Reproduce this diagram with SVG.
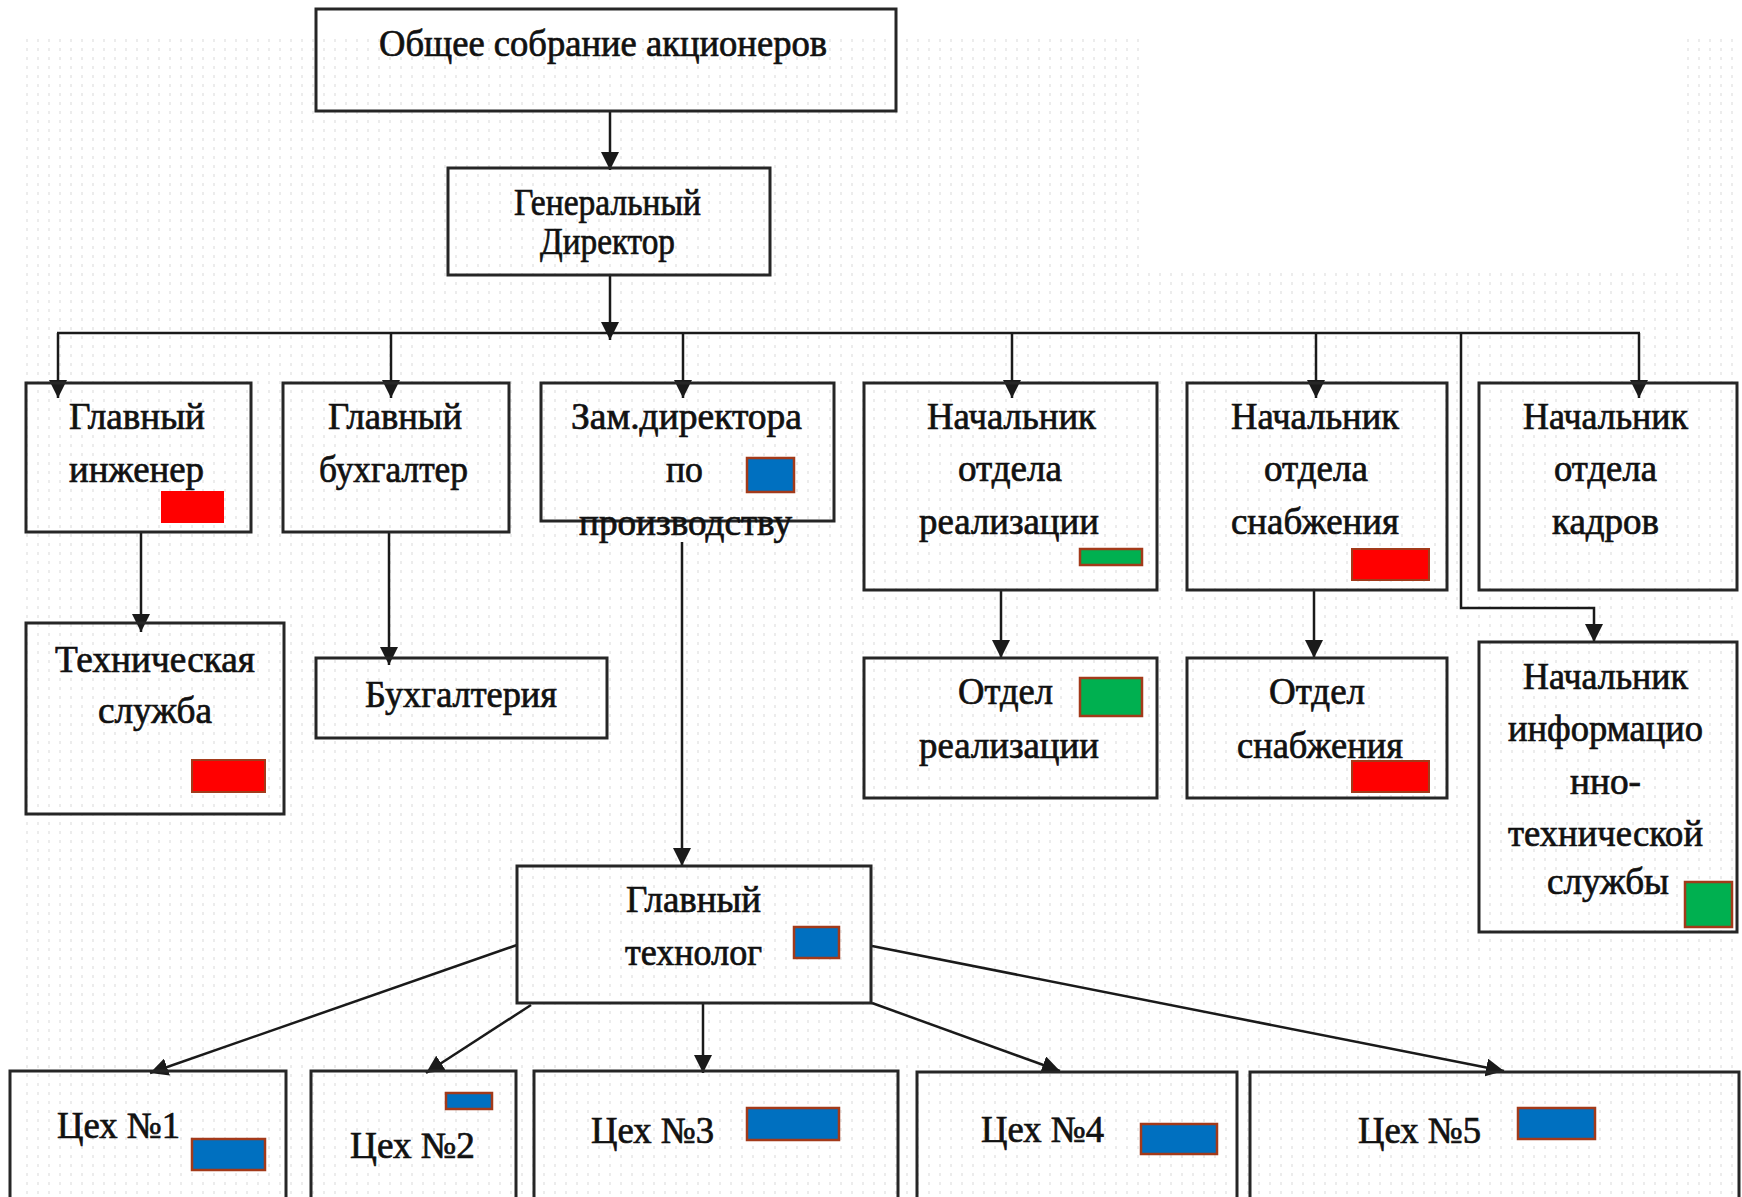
<svg xmlns="http://www.w3.org/2000/svg" width="1742" height="1197" viewBox="0 0 1742 1197">
<defs>
<pattern id="dots" width="11" height="9" patternUnits="userSpaceOnUse">
<rect x="4" y="3" width="2" height="3" fill="#d9d9d9"/>
</pattern>
<marker id="ah" viewBox="0 0 18 18" refX="18" refY="9" markerWidth="18" markerHeight="18" markerUnits="userSpaceOnUse" orient="auto">
<path d="M0,0 L18,9 L0,18 z" fill="#1a1a1a"/>
</marker>
<style>
.box{fill:none;stroke:#262626;stroke-width:3}
.t{font-family:"Liberation Serif","Times New Roman",serif;font-size:37px;fill:#111;stroke:#111;stroke-width:0.7;text-anchor:middle}
.c{stroke:#1a1a1a;stroke-width:2.5;fill:none}
.a{stroke:#1a1a1a;stroke-width:2.5;fill:none;marker-end:url(#ah)}
.r{fill:#ff0000;stroke:#a33a1a;stroke-width:2}
.bl{fill:#0070c0;stroke:#a33a1a;stroke-width:2.5}
.g{fill:#00b050;stroke:#a33a1a;stroke-width:2.5}
</style>
</defs>
<rect width="1742" height="1197" fill="#ffffff"/>
<path d="M17,33 H1139 V267 H1683 V33 H1739 V1197 H17 Z" fill="url(#dots)" opacity="0.5"/>

<g id="connectors">
<line class="a" x1="610" y1="111" x2="610" y2="170"/>
<line class="a" x1="610" y1="275" x2="610" y2="340"/>
<line class="c" x1="57" y1="333" x2="1640" y2="333"/>
<line class="a" x1="58" y1="333" x2="58" y2="398"/>
<line class="a" x1="391" y1="333" x2="391" y2="398"/>
<line class="a" x1="683" y1="333" x2="683" y2="398"/>
<line class="a" x1="1012" y1="333" x2="1012" y2="398"/>
<line class="a" x1="1316" y1="333" x2="1316" y2="398"/>
<line class="a" x1="1639" y1="333" x2="1639" y2="398"/>
<polyline class="a" points="1461,333 1461,608 1594,608 1594,642"/>
<line class="a" x1="141" y1="532" x2="141" y2="632"/>
<line class="a" x1="389" y1="532" x2="389" y2="665"/>
<line class="a" x1="1001" y1="590" x2="1001" y2="658"/>
<line class="a" x1="1314" y1="590" x2="1314" y2="658"/>
<line class="a" x1="682" y1="542" x2="682" y2="866"/>
<line class="a" x1="517" y1="945" x2="150" y2="1073"/>
<line class="a" x1="531" y1="1005" x2="426" y2="1073"/>
<line class="a" x1="703" y1="1003" x2="703" y2="1073"/>
<line class="a" x1="872" y1="1003" x2="1060" y2="1071"/>
<line class="a" x1="872" y1="946" x2="1504" y2="1071"/>
</g>

<g id="n-sobranie"><rect class="box" x="316" y="9" width="580" height="102"/>
<text class="t" x="603" y="56" textLength="448" lengthAdjust="spacingAndGlyphs">Общее собрание акционеров</text></g>

<g id="n-gendir"><rect class="box" x="448" y="168" width="322" height="107"/>
<text class="t" x="607.5" y="215" textLength="187" lengthAdjust="spacingAndGlyphs">Генеральный</text>
<text class="t" x="607.5" y="254" textLength="135" lengthAdjust="spacingAndGlyphs">Директор</text></g>

<g id="n-glinzh"><rect class="box" x="26" y="383" width="225" height="149"/>
<text class="t" x="137" y="429" textLength="136" lengthAdjust="spacingAndGlyphs">Главный</text>
<text class="t" x="136.5" y="482" textLength="135" lengthAdjust="spacingAndGlyphs">инженер</text>
<rect x="161" y="491" width="63" height="32" fill="#ff0000"/></g>

<g id="n-glbuh"><rect class="box" x="283" y="383" width="226" height="149"/>
<text class="t" x="395" y="429" textLength="134" lengthAdjust="spacingAndGlyphs">Главный</text>
<text class="t" x="393.5" y="482" textLength="149" lengthAdjust="spacingAndGlyphs">бухгалтер</text></g>

<g id="n-zam"><rect class="box" x="541" y="383" width="293" height="138"/>
<text class="t" x="686.5" y="429" textLength="231" lengthAdjust="spacingAndGlyphs">Зам.директора</text>
<text class="t" x="684.5" y="482" textLength="37" lengthAdjust="spacingAndGlyphs">по</text>
<text class="t" x="685.5" y="535" textLength="213" lengthAdjust="spacingAndGlyphs">производству</text>
<rect class="bl" x="747" y="458" width="47" height="34"/></g>

<g id="n-nreal"><rect class="box" x="864" y="383" width="293" height="207"/>
<text class="t" x="1011.5" y="429" textLength="169" lengthAdjust="spacingAndGlyphs">Начальник</text>
<text class="t" x="1010" y="481" textLength="104" lengthAdjust="spacingAndGlyphs">отдела</text>
<text class="t" x="1009" y="534" textLength="180" lengthAdjust="spacingAndGlyphs">реализации</text>
<rect class="g" x="1080" y="549" width="62" height="16"/></g>

<g id="n-nsnab"><rect class="box" x="1187" y="383" width="260" height="207"/>
<text class="t" x="1315" y="429" textLength="168" lengthAdjust="spacingAndGlyphs">Начальник</text>
<text class="t" x="1316" y="481" textLength="104" lengthAdjust="spacingAndGlyphs">отдела</text>
<text class="t" x="1315" y="534" textLength="168" lengthAdjust="spacingAndGlyphs">снабжения</text>
<rect class="r" x="1352" y="549" width="77" height="31"/></g>

<g id="n-nkadr"><rect class="box" x="1479" y="383" width="258" height="207"/>
<text class="t" x="1605.5" y="429" textLength="165" lengthAdjust="spacingAndGlyphs">Начальник</text>
<text class="t" x="1605.5" y="481" textLength="103" lengthAdjust="spacingAndGlyphs">отдела</text>
<text class="t" x="1605.5" y="534" textLength="107" lengthAdjust="spacingAndGlyphs">кадров</text></g>

<g id="n-tech"><rect class="box" x="26" y="623" width="258" height="191"/>
<text class="t" x="155" y="672" textLength="200" lengthAdjust="spacingAndGlyphs">Техническая</text>
<text class="t" x="155" y="723" textLength="114" lengthAdjust="spacingAndGlyphs">служба</text>
<rect class="r" x="192" y="760" width="73" height="32"/></g>

<g id="n-buh"><rect class="box" x="316" y="658" width="291" height="80"/>
<text class="t" x="461" y="707" textLength="192" lengthAdjust="spacingAndGlyphs">Бухгалтерия</text></g>

<g id="n-oreal"><rect class="box" x="864" y="658" width="293" height="140"/>
<text class="t" x="1005.5" y="704" textLength="95" lengthAdjust="spacingAndGlyphs">Отдел</text>
<text class="t" x="1009" y="758" textLength="180" lengthAdjust="spacingAndGlyphs">реализации</text>
<rect class="g" x="1080" y="678" width="62" height="38"/></g>

<g id="n-osnab"><rect class="box" x="1187" y="658" width="260" height="140"/>
<text class="t" x="1317" y="704" textLength="96" lengthAdjust="spacingAndGlyphs">Отдел</text>
<text class="t" x="1320" y="758" textLength="166" lengthAdjust="spacingAndGlyphs">снабжения</text>
<rect class="r" x="1352" y="761" width="77" height="31"/></g>

<g id="n-ninf"><rect class="box" x="1479" y="642" width="258" height="290"/>
<text class="t" x="1605.5" y="689" textLength="165" lengthAdjust="spacingAndGlyphs">Начальник</text>
<text class="t" x="1605.5" y="741" textLength="195" lengthAdjust="spacingAndGlyphs">информацио</text>
<text class="t" x="1605.5" y="794" textLength="71" lengthAdjust="spacingAndGlyphs">нно-</text>
<text class="t" x="1605.5" y="846" textLength="195" lengthAdjust="spacingAndGlyphs">технической</text>
<text class="t" x="1608" y="894" textLength="122" lengthAdjust="spacingAndGlyphs">службы</text>
<rect class="g" x="1685" y="882" width="47" height="45"/></g>

<g id="n-gltech"><rect class="box" x="517" y="866" width="354" height="137"/>
<text class="t" x="693.5" y="912" textLength="135" lengthAdjust="spacingAndGlyphs">Главный</text>
<text class="t" x="693.5" y="965" textLength="137" lengthAdjust="spacingAndGlyphs">технолог</text>
<rect class="bl" x="794" y="927" width="45" height="31"/></g>

<g id="n-ceh1"><rect class="box" x="10" y="1071" width="276" height="140"/>
<text class="t" x="118.5" y="1138" textLength="123" lengthAdjust="spacingAndGlyphs">Цех №1</text>
<rect class="bl" x="192" y="1139" width="73" height="31"/></g>

<g id="n-ceh2"><rect class="box" x="311" y="1071" width="205" height="140"/>
<text class="t" x="412.5" y="1158" textLength="125" lengthAdjust="spacingAndGlyphs">Цех №2</text>
<rect class="bl" x="446" y="1093" width="46" height="16"/></g>

<g id="n-ceh3"><rect class="box" x="534" y="1071" width="364" height="140"/>
<text class="t" x="652.5" y="1143" textLength="123" lengthAdjust="spacingAndGlyphs">Цех №3</text>
<rect class="bl" x="747" y="1108" width="92" height="32"/></g>

<g id="n-ceh4"><rect class="box" x="917" y="1072" width="320" height="140"/>
<text class="t" x="1042.5" y="1142" textLength="123" lengthAdjust="spacingAndGlyphs">Цех №4</text>
<rect class="bl" x="1141" y="1124" width="76" height="30"/></g>

<g id="n-ceh5"><rect class="box" x="1250" y="1072" width="489" height="140"/>
<text class="t" x="1419.5" y="1143" textLength="123" lengthAdjust="spacingAndGlyphs">Цех №5</text>
<rect class="bl" x="1518" y="1108" width="77" height="31"/></g>
</svg>
